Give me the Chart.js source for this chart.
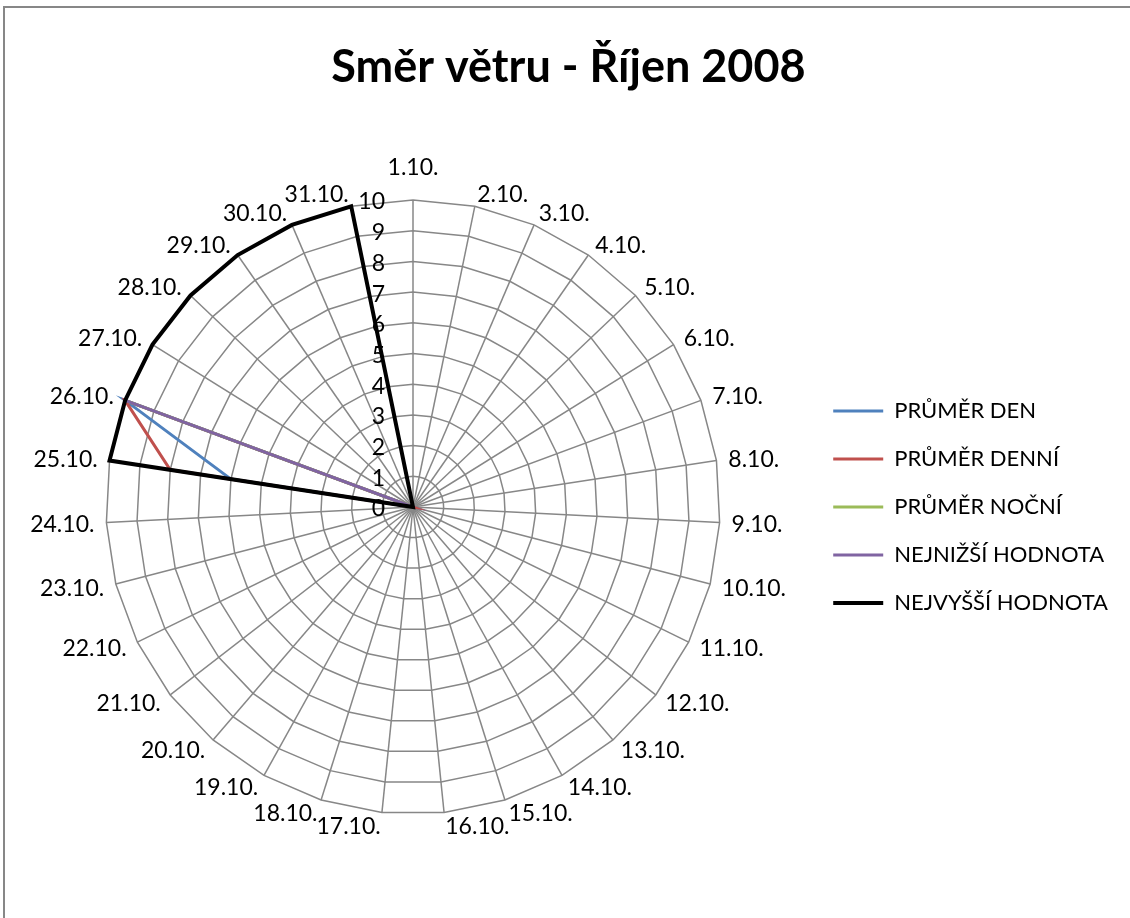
<!DOCTYPE html>
<html>
<head>
<meta charset="utf-8">
<title>Směr větru - Říjen 2008</title>
<script src="https://cdn.jsdelivr.net/npm/chart.js@4/dist/chart.umd.min.js"></script>
<style>
    html, body { margin: 0; padding: 0; background: #ffffff; overflow: hidden; }
    #wrap { position: relative; width: 1130px; height: 918px; }
    #frame { position: absolute; left: 3px; top: 6px; width: 2000px; height: 2000px; border: 2px solid #878787; pointer-events: none; }
</style>
</head>
<body>
<div id="wrap">
    <canvas id="windChart" width="1130" height="918"></canvas>
    <div id="frame"></div>
</div>
<script>
// categories: days of October 2008
const days = ['1.10.', '2.10.', '3.10.', '4.10.', '5.10.', '6.10.', '7.10.', '8.10.',
    '9.10.', '10.10.', '11.10.', '12.10.', '13.10.', '14.10.', '15.10.', '16.10.',
    '17.10.', '18.10.', '19.10.', '20.10.', '21.10.', '22.10.', '23.10.', '24.10.',
    '25.10.', '26.10.', '27.10.', '28.10.', '29.10.', '30.10.', '31.10.'];

// series values (one per day)
const prumerDen = [0, 0, 0, 0, 0, 0, 0, 0, 0, 0, 0, 0, 0, 0, 0, 0,
    0, 0, 0, 0, 0, 0, 0, 0, 6, 10, 0, 0, 0, 0, 0];
const prumerDenni = [0, 0, 0, 0, 0, 0, 0, 0, 0, 0, 0, 0, 0, 0, 0, 0,
    0, 0, 0, 0, 0, 0, 0, 0, 8, 10, 0, 0, 0, 0, 0];
const prumerNocni = [0, 0, 0, 0, 0, 0, 0, 0, 0, 0, 0, 0, 0, 0, 0, 0,
    0, 0, 0, 0, 0, 0, 0, 0, 0, 10, 0, 0, 0, 0, 0];
const nejnizsi = [0, 0, 0, 0, 0, 0, 0, 0, 0, 0, 0, 0, 0, 0, 0, 0,
    0, 0, 0, 0, 0, 0, 0, 0, 0, 10, 0, 0, 0, 0, 0];
const nejvyssi = [0, 0, 0, 0, 0, 0, 0, 0, 0, 0, 0, 0, 0, 0, 0, 0,
    0, 0, 0, 0, 0, 0, 0, 0, 10, 10, 10, 10, 10, 10, 10];

const scaleMin = 0;
const scaleMax = 10;
const scaleStep = 1;

const fontFamily = "Lato, 'Open Sans', sans-serif";
const textFont = '23px ' + fontFamily;

// tick labels sit left of the first spoke, right aligned
const tickLabelPlugin = {
    id: 'tickLabels',
    afterDatasetsDraw(chart) {
        const scale = chart.scales.r;
        const ctx = chart.ctx;
        ctx.save();
        ctx.font = textFont;
        ctx.fillStyle = '#000000';
        ctx.textAlign = 'right';
        ctx.textBaseline = 'middle';
        scale.ticks.forEach((tick) => {
            const y = scale.yCenter - scale.getDistanceFromCenterForValue(tick.value);
            ctx.fillText(tick.label, scale.xCenter - 28, y + 2);
        });
        ctx.restore();
    }
};

// day labels around the rim, placed the way Excel does it
const dayLabelPlugin = {
    id: 'dayLabels',
    afterDatasetsDraw(chart) {
        const scale = chart.scales.r;
        const ctx = chart.ctx;
        ctx.save();
        ctx.font = textFont;
        ctx.fillStyle = '#000000';
        ctx.textBaseline = 'middle';
        chart.data.labels.forEach((label, i) => {
            const angle = scale.getIndexAngle(i);
            const deg = Math.round(angle * 180 / Math.PI);
            const pos = scale.getPointPosition(i, scale.drawingArea + 8);
            if (deg === 0 || deg === 180) ctx.textAlign = 'center';
            else if (deg < 180) ctx.textAlign = 'left';
            else ctx.textAlign = 'right';
            let y = pos.y - 5 * Math.cos(angle) + 1;
            if (i === 0) y -= 20;
            ctx.fillText(label, pos.x + 4 * Math.sin(angle), y);
        });
        ctx.restore();
    }
};

const makeSeries = (label, data, color, width, order) => ({
    label: label,
    data: data,
    borderColor: color,
    backgroundColor: color,
    borderWidth: width,
    fill: false,
    order: order
});

function drawChart() {
    const ctx = document.getElementById('windChart').getContext('2d');
    new Chart(ctx, {
        type: 'radar',
        data: {
            labels: days,
            datasets: [
                makeSeries('PRŮMĚR DEN', prumerDen, '#4F81BD', 3, 4),
                makeSeries('PRŮMĚR DENNÍ', prumerDenni, '#C0504D', 3, 3),
                makeSeries('PRŮMĚR NOČNÍ', prumerNocni, '#9BBB59', 3, 2),
                makeSeries('NEJNIŽŠÍ HODNOTA', nejnizsi, '#8064A2', 3, 1),
                makeSeries('NEJVYŠŠÍ HODNOTA', nejvyssi, '#000000', 4, 0)
            ]
        },
        options: {
            responsive: false,
            animation: false,
            layout: { padding: { top: 0, left: 19, right: 12, bottom: 104 } },
            elements: {
                line: { tension: 0 },
                point: { radius: 0, hoverRadius: 0 }
            },
            scales: {
                r: {
                    min: scaleMin,
                    max: scaleMax,
                    ticks: { stepSize: scaleStep, display: false },
                    grid: { color: '#878787', lineWidth: 1.5 },
                    angleLines: { color: '#878787', lineWidth: 1.5 },
                    pointLabels: { display: false }
                }
            },
            plugins: {
                title: {
                    display: true,
                    text: 'Směr větru - Říjen 2008',
                    color: '#000000',
                    font: { family: fontFamily, size: 45, weight: 'bold' },
                    padding: { top: 40, bottom: 106 }
                },
                legend: {
                    position: 'right',
                    fullSize: false,
                    labels: {
                        usePointStyle: true,
                        pointStyle: 'line',
                        pointStyleWidth: 50,
                        padding: 26,
                        color: '#000000',
                        font: { family: fontFamily, size: 22 },
                        sort: (a, b) => a.datasetIndex - b.datasetIndex
                    }
                },
                tooltip: { enabled: false }
            }
        },
        plugins: [tickLabelPlugin, dayLabelPlugin]
    });
}

document.fonts.load(textFont).then(drawChart, drawChart);
</script>
</body>
</html>
